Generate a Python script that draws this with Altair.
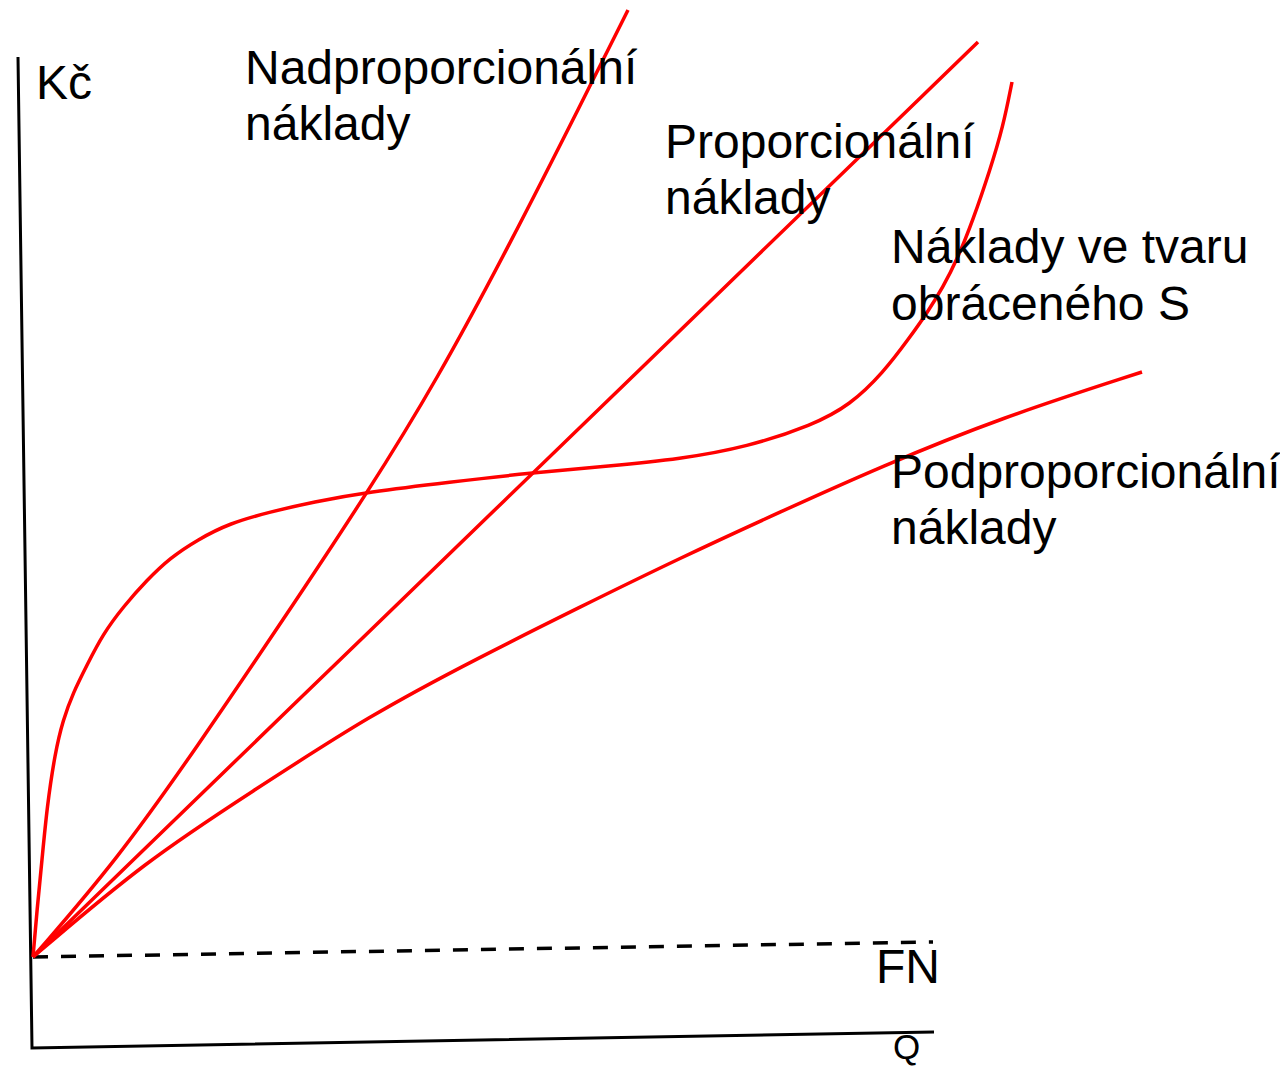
import altair as alt
import pandas as pd

# Curves (coordinates, pixel space)
nad_x = [33, 117, 197, 283, 368, 437, 510, 583, 628]
nad_y = [957, 860, 747, 620, 492, 380, 244, 100, 10]

prop_x = [33, 380, 630, 978]
prop_y = [957, 621, 379, 42]

s_x = [33, 37, 42, 47, 55, 63, 73, 87, 103, 123, 147, 170, 197, 230, 270, 313, 368, 450, 530, 610, 680, 747,
       813, 850, 883, 910, 927, 943, 957, 973, 990, 1003, 1012]
s_y = [957, 910, 860, 807, 753, 720, 693, 665, 634, 607, 580, 558, 540, 523, 512, 502, 492, 482, 473, 466, 459, 447,
       425, 405, 373, 337, 313, 287, 260, 220, 170, 127, 82]

pod_x = [33, 147, 250, 370, 480, 580, 680, 780, 880, 1000, 1142]
pod_y = [957, 860, 793, 715, 657, 607, 558, 512, 467, 418, 372]

axes_x = [18, 32, 934]
axes_y = [57, 1048, 1032]

fn_x = [33, 933]
fn_y = [957, 942]

labels = ["Kč", "Nadproporcionální", "náklady", "Proporcionální", "náklady",
          "Náklady ve tvaru", "obráceného S", "Podproporcionální", "náklady", "FN"]
label_x = [36, 245, 245, 665, 665, 891, 891, 891, 891, 876]
label_y = [99, 84, 140, 158, 214, 263, 320, 488, 544, 983]

q_label = ["Q"]
q_x = [893]
q_y = [1059]


def frame(xs, ys, name):
    return pd.DataFrame({"x": xs, "y": ys, "i": list(range(len(xs))), "series": name})


curves = pd.concat([
    frame(nad_x, nad_y, "nad"),
    frame(prop_x, prop_y, "prop"),
    frame(s_x, s_y, "s"),
    frame(pod_x, pod_y, "pod"),
])
axes_df = frame(axes_x, axes_y, "axes")
fn_df = frame(fn_x, fn_y, "fn")
text_df = pd.DataFrame({"x": label_x, "y": label_y, "label": labels})
q_df = pd.DataFrame({"x": q_x, "y": q_y, "label": q_label})

xs = alt.Scale(domain=[8, 1280], nice=False, zero=False)
ys = alt.Scale(domain=[8, 1067], nice=False, zero=False, reverse=True)
X = alt.X("x:Q", scale=xs, axis=None)
Y = alt.Y("y:Q", scale=ys, axis=None)

curve_layer = alt.Chart(curves).mark_line(
    color="#ff0000", strokeWidth=3.5, interpolate="basis"
).encode(x=X, y=Y, detail="series:N", order="i:Q")

axes_layer = alt.Chart(axes_df).mark_line(
    color="black", strokeWidth=3, strokeJoin="miter"
).encode(x=X, y=Y, order="i:Q")

fn_layer = alt.Chart(fn_df).mark_line(
    color="black", strokeWidth=3.5, strokeDash=[15, 13]
).encode(x=X, y=Y, order="i:Q")

text_layer = alt.Chart(text_df).mark_text(
    align="left", baseline="alphabetic", font="Liberation Sans", fontSize=48, color="black"
).encode(x=X, y=Y, text="label:N")

q_layer = alt.Chart(q_df).mark_text(
    align="left", baseline="alphabetic", font="Liberation Sans", fontSize=35, color="black"
).encode(x=X, y=Y, text="label:N")

chart = alt.layer(axes_layer, fn_layer, curve_layer, text_layer, q_layer).properties(
    width=1272, height=1059, autosize="none", padding=0
).configure_view(strokeWidth=0)

chart.save("out.html", embed_options={"renderer": "svg", "actions": False})
